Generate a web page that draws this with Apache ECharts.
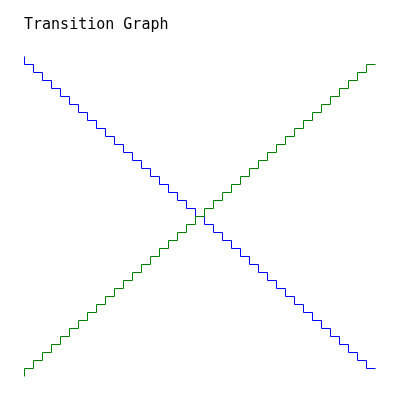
<!DOCTYPE html>
<html>
<head>
<meta charset="utf-8">
<script src="https://cdn.jsdelivr.net/npm/echarts@6/dist/echarts.min.js"></script>
<style>
  html, body { margin: 0; padding: 0; background: #fff; }
  #chart { width: 400px; height: 400px; }
</style>
</head>
<body>
<div id="chart"></div>
<script>
// Transition steps (x)
const steps = [0, 1, 2, 3, 4, 5, 6, 7, 8, 9, 10, 11, 12, 13, 14, 15, 16, 17, 18, 19,
               20, 21, 22, 23, 24, 25, 26, 27, 28, 29, 30, 31, 32, 33, 34, 35, 36, 37, 38, 39];

// Falling series (blue)
const blueValues = [40, 39, 38, 37, 36, 35, 34, 33, 32, 31, 30, 29, 28, 27, 26, 25, 24, 23, 22, 21,
                    20, 19, 18, 17, 16, 15, 14, 13, 12, 11, 10, 9, 8, 7, 6, 5, 4, 3, 2, 1];

// Rising series (green)
const greenValues = [0, 1, 2, 3, 4, 5, 6, 7, 8, 9, 10, 11, 12, 13, 14, 15, 16, 17, 18, 19,
                     20, 21, 22, 23, 24, 25, 26, 27, 28, 29, 30, 31, 32, 33, 34, 35, 36, 37, 38, 39];

const chart = echarts.init(document.getElementById('chart'), null, { renderer: 'canvas' });

const option = {
    animation: false,
    backgroundColor: '#fff',
    title: {
        text: 'Transition Graph',
        left: 19,
        top: 13,
        textStyle: {
            fontFamily: 'DejaVu Sans Mono',
            fontSize: 15,
            fontWeight: 'normal',
            color: '#000'
        }
    },
    grid: {
        left: 24.5,
        top: 56.5,
        width: 351,
        height: 320
    },
    xAxis: {
        type: 'category',
        data: steps,
        boundaryGap: false,
        show: false
    },
    yAxis: {
        type: 'value',
        min: 0,
        max: 40,
        show: false
    },
    series: [
        {
            name: 'Blue',
            type: 'line',
            step: 'start',
            data: blueValues,
            showSymbol: false,
            lineStyle: { color: '#0000ff', width: 1 }
        },
        {
            name: 'Green',
            type: 'line',
            step: 'start',
            data: greenValues,
            showSymbol: false,
            lineStyle: { color: '#008000', width: 1 }
        }
    ]
};

chart.setOption(option);
</script>
</body>
</html>
